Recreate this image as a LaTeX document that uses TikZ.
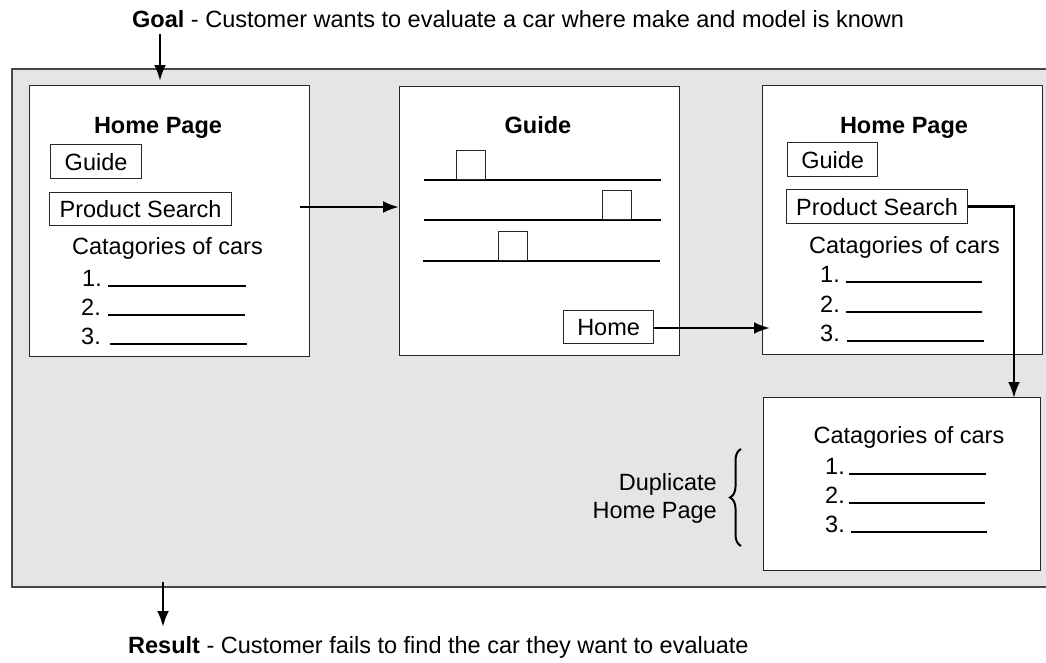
\documentclass[tikz,border=0pt]{standalone}
\usepackage{fontspec}
\setmainfont{Liberation Sans}
\usetikzlibrary{arrows.meta,decorations.pathreplacing}
\definecolor{panelgray}{HTML}{E5E5E5}
\definecolor{panelline}{HTML}{474747}
\tikzset{
  txt/.style={inner sep=0pt, font=\fontsize{23.5}{28}\selectfont},
  lbl/.style={txt, anchor=base},
  ttl/.style={lbl, font=\fontsize{23.5}{28}\selectfont\bfseries},
  pagebox/.style={draw=black!85, fill=white, line width=1.3pt, anchor=north west, inner sep=0pt},
  btn/.style={draw=black!85, fill=white, line width=1.2pt, anchor=north west, inner sep=0pt, font=\fontsize{23.5}{28}\selectfont},
  arr/.style={line width=2.6pt, -{Latex[length=16pt,width=12pt]}},
  blank/.style={line width=1.2pt},
  sqbox/.style={draw=black!85, fill=white, line width=1.2pt, anchor=south west, minimum size=29pt, inner sep=0pt}
}
\begin{document}
\begin{tikzpicture}[x=1pt,y=-1pt]
\useasboundingbox (0,0) rectangle (1046,662);
% panel
\fill[panelgray] (12,69) rectangle (1047,587);
\draw[panelline, line width=2.2pt] (1047,69) -- (12,69) -- (12,587) -- (1047,587);

% goal / result
\node[txt, anchor=base west] (goal) at (132,27) {\textbf{Goal} - Customer wants to evaluate a car where make and model is known};
\node[txt, anchor=base west] (result) at (128,653) {\textbf{Result} - Customer fails to find the car they want to evaluate};
\coordinate (goalA) at (160,34);
\coordinate (goalB) at (160,81);
\draw[arr] (goalA) -- (goalB);
\coordinate (resA) at (163,582);
\coordinate (resB) at (163,627);
\draw[arr] (resA) -- (resB);

% page boxes
\node[pagebox, minimum width=280pt, minimum height=271pt] (hp1) at (29,85) {};
\node[pagebox, minimum width=280pt, minimum height=269pt] (gd2) at (399,86) {};
\node[pagebox, minimum width=280pt, minimum height=269pt] (hp3) at (762,85) {};
\node[pagebox, minimum width=277pt, minimum height=173pt] (dp4) at (763,397) {};

% box 1 content
\node[ttl] (t1) at (158,133) {Home Page};
\node[btn, minimum width=91pt, minimum height=34pt] (g1) at (50,144) {Guide};
\node[btn, minimum width=182pt, minimum height=33pt] (ps1) at (49,192) {Product Search};
\node[lbl] (c1) at (167.5,254) {Catagories of cars};
\node[lbl, anchor=base west] (n11) at (82,286) {1.};
\node[lbl, anchor=base west] (n12) at (81,315) {2.};
\node[lbl, anchor=base west] (n13) at (81,344) {3.};
\draw[blank] (108,286) -- (246,286);
\draw[blank] (108,315) -- (245,315);
\draw[blank] (110,344) -- (247,344);

% box 2 content
\node[ttl] (t2) at (538,133) {Guide};
\draw[blank] (424,180) -- (661,180);
\draw[blank] (424,220) -- (661,220);
\draw[blank] (423,261) -- (660,261);
\node[sqbox] (sq1) at (456,180) {};
\node[sqbox] (sq2) at (602,220) {};
\node[sqbox] (sq3) at (498,261) {};
\node[btn, minimum width=90pt, minimum height=33pt] (home) at (563,310) {Home};

% box 3 content
\node[ttl] (t3) at (904,133) {Home Page};
\node[btn, minimum width=90pt, minimum height=34pt] (g3) at (787,142) {Guide};
\node[btn, minimum width=181pt, minimum height=34pt] (ps3) at (786,189) {Product Search};
\node[lbl] (c3) at (904.5,253) {Catagories of cars};
\node[lbl, anchor=base west] (n31) at (820,282) {1.};
\node[lbl, anchor=base west] (n32) at (820,312) {2.};
\node[lbl, anchor=base west] (n33) at (820,341) {3.};
\draw[blank] (846,282) -- (982,282);
\draw[blank] (846,312) -- (982,312);
\draw[blank] (847,341) -- (984,341);

% box 4 content
\node[lbl] (c4) at (909,443) {Catagories of cars};
\node[lbl, anchor=base west] (n41) at (825,474) {1.};
\node[lbl, anchor=base west] (n42) at (825,503) {2.};
\node[lbl, anchor=base west] (n43) at (825,532) {3.};
\draw[blank] (849,474) -- (986,474);
\draw[blank] (849,503) -- (985,503);
\draw[blank] (851,532) -- (987,532);

% duplicate label and brace
\node[txt, align=right, anchor=east] (dup) at (717,498) {Duplicate\\Home Page};
\draw[line width=2pt, decorate, decoration={brace, amplitude=11pt}] (741,546) -- (741,449);

% connectors
\coordinate (a1s) at (300,207);
\draw[arr] (a1s) -- (a1s -| gd2.west);
\coordinate (a2e) at (770,328);
\draw[arr] (home.east |- a2e) -- (a2e);
\coordinate (a3e) at (1014,398);
\draw[arr] (ps3.east) -| (a3e);
\end{tikzpicture}
\end{document}
